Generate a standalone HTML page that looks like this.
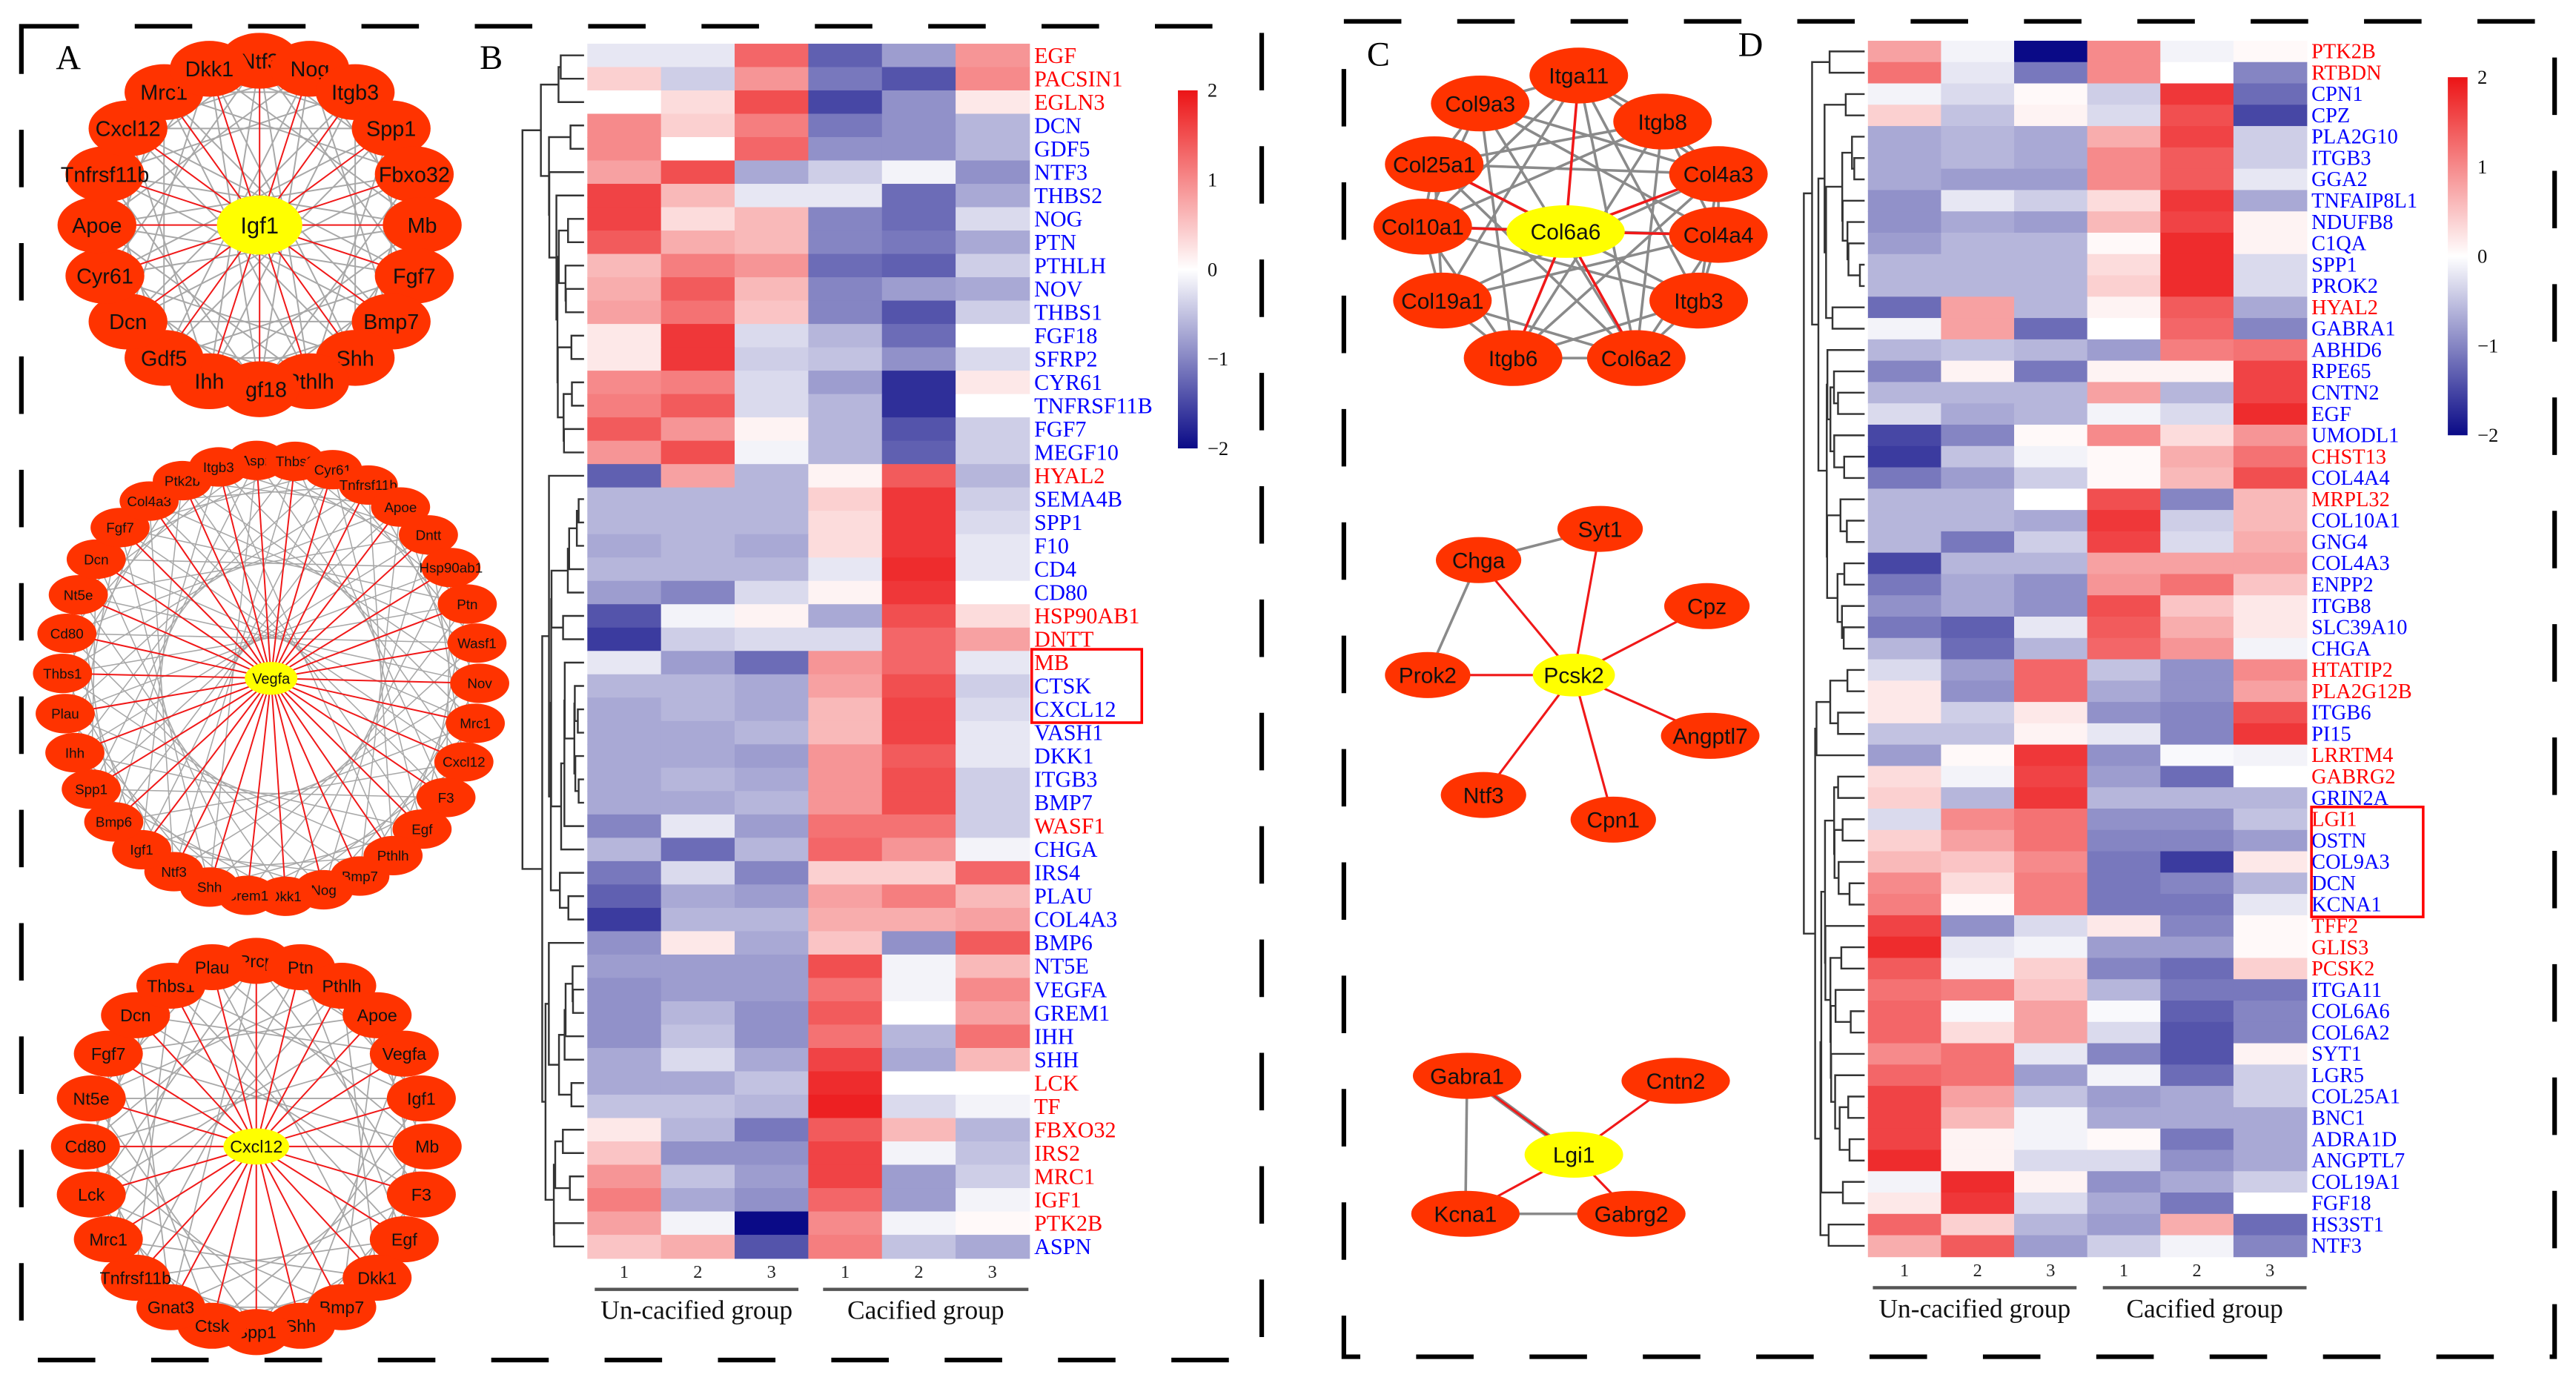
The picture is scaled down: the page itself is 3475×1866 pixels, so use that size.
<!DOCTYPE html>
<html><head><meta charset="utf-8"><style>
html,body{margin:0;padding:0;background:#fff;}
svg{display:block;}
</style></head><body>
<svg id="fig" xmlns="http://www.w3.org/2000/svg" width="3475" height="1866" viewBox="0 0 1568 842">
<rect x="0" y="0" width="1568" height="842" fill="#fff"/>
<g id="frames">
<rect x="13" y="16" width="755" height="812" fill="none" stroke="#000" stroke-width="2.8" stroke-dasharray="35 34" stroke-dashoffset="0"/>
<rect x="818" y="13" width="737" height="813" fill="none" stroke="#000" stroke-width="2.8" stroke-dasharray="35 34" stroke-dashoffset="0"/>
</g>
<g font-family="Liberation Serif, serif" font-size="21" fill="#000">
<text x="34" y="42">A</text>
<text x="292" y="42">B</text>
<text x="832" y="40">C</text>
<text x="1058" y="34">D</text>
</g>
<g id="nets"></g>
<g id="heatB"></g>
<g id="heatD"></g>
</svg>
<script>
const NS='http://www.w3.org/2000/svg';
function mk(tag,attrs,parent){const e=document.createElementNS(NS,tag);for(const k in attrs)e.setAttribute(k,attrs[k]);parent.appendChild(e);return e;}

// ---------- Heatmap B data ----------
const genesB=["EGF","PACSIN1","EGLN3","DCN","GDF5","NTF3","THBS2","NOG","PTN","PTHLH","NOV","THBS1","FGF18","SFRP2","CYR61","TNFRSF11B","FGF7","MEGF10","HYAL2","SEMA4B","SPP1","F10","CD4","CD80","HSP90AB1","DNTT","MB","CTSK","CXCL12","VASH1","DKK1","ITGB3","BMP7","WASF1","CHGA","IRS4","PLAU","COL4A3","BMP6","NT5E","VEGFA","GREM1","IHH","SHH","LCK","TF","FBXO32","IRS2","MRC1","IGF1","PTK2B","ASPN"];
const redGenesB=["EGF","PACSIN1","EGLN3","HYAL2","HSP90AB1","DNTT","MB","WASF1","LCK","TF","FBXO32","IRS2","MRC1","IGF1","PTK2B"];
const valuesB=[
[-0.2,-0.2,1.3,-1.3,-0.8,0.9],[0.4,-0.4,0.9,-1.1,-1.4,1.0],[0,0.3,1.5,-1.5,-0.9,0.2],[1.0,0.4,1.1,-1.1,-0.9,-0.6],[1.0,0,1.3,-0.9,-0.9,-0.6],
[0.8,1.5,-0.7,-0.4,-0.1,-0.9],[1.6,0.6,-0.2,-0.2,-1.2,-0.7],[1.6,0.3,0.6,-1.0,-1.2,-0.3],[1.4,0.7,0.6,-1.0,-1.1,-0.7],[0.6,1.1,0.9,-1.2,-1.3,-0.4],
[0.7,1.4,0.6,-1.0,-0.8,-0.7],[0.8,1.2,0.5,-1.0,-1.4,-0.4],[0.2,1.7,-0.3,-0.6,-1.2,0],[0.2,1.7,-0.4,-0.5,-0.9,-0.3],[1.0,1.1,-0.3,-0.8,-1.7,0.2],
[1.1,1.4,-0.3,-0.6,-1.7,0],[1.4,0.9,0.1,-0.6,-1.4,-0.4],[0.9,1.5,-0.1,-0.6,-1.3,-0.4],[-1.3,0.8,-0.6,0.1,1.4,-0.6],[-0.6,-0.6,-0.6,0.4,1.7,-0.4],
[-0.6,-0.6,-0.6,0.3,1.7,-0.3],[-0.7,-0.6,-0.7,0.3,1.7,-0.2],[-0.6,-0.6,-0.6,-0.2,1.8,-0.2],[-0.8,-1.0,-0.3,0.1,1.7,0],[-1.4,-0.1,0.1,-0.7,1.5,0.3],
[-1.6,-0.4,-0.3,-0.3,1.3,0.8],[-0.2,-0.8,-1.2,0.9,1.3,-0.2],[-0.6,-0.6,-0.7,0.8,1.5,-0.4],[-0.7,-0.6,-0.7,0.6,1.6,-0.3],[-0.7,-0.7,-0.6,0.6,1.6,-0.2],
[-0.7,-0.7,-0.8,0.9,1.4,-0.2],[-0.7,-0.6,-0.7,0.9,1.5,-0.4],[-0.7,-0.7,-0.6,0.9,1.5,-0.4],[-1.0,-0.2,-0.8,1.2,1.2,-0.4],[-0.6,-1.2,-0.6,1.3,0.9,-0.1],
[-1.1,-0.3,-1.0,0.4,0.4,1.3],[-1.3,-0.7,-0.8,0.8,1.1,0.6],[-1.6,-0.6,-0.6,0.7,0.7,0.8],[-0.9,0.2,-0.7,0.5,-0.9,1.4],[-0.8,-0.8,-0.8,1.5,-0.1,0.6],
[-0.9,-0.8,-0.8,1.2,-0.1,1.0],[-0.9,-0.6,-0.9,1.4,0,0.8],[-0.9,-0.5,-0.9,1.2,-0.6,1.2],[-0.7,-0.3,-0.7,1.6,-0.7,0.6],[-0.7,-0.7,-0.5,1.8,0,0],
[-0.5,-0.5,-0.6,1.9,-0.3,-0.1],[0.2,-0.6,-1.1,1.4,0.6,-0.6],[0.5,-0.9,-0.9,1.6,-0.1,-0.5],[0.9,-0.5,-0.8,1.6,-0.8,-0.4],[1.1,-0.7,-0.9,1.3,-0.8,-0.1],
[0.8,-0.1,-2.0,1.0,-0.1,0.05],[0.5,0.7,-1.4,1.1,-0.5,-0.7]];

// ---------- Heatmap D data ----------
const genesD=["PTK2B","RTBDN","CPN1","CPZ","PLA2G10","ITGB3","GGA2","TNFAIP8L1","NDUFB8","C1QA","SPP1","PROK2","HYAL2","GABRA1","ABHD6","RPE65","CNTN2","EGF","UMODL1","CHST13","COL4A4","MRPL32","COL10A1","GNG4","COL4A3","ENPP2","ITGB8","SLC39A10","CHGA","HTATIP2","PLA2G12B","ITGB6","PI15","LRRTM4","GABRG2","GRIN2A","LGI1","OSTN","COL9A3","DCN","KCNA1","TFF2","GLIS3","PCSK2","ITGA11","COL6A6","COL6A2","SYT1","LGR5","COL25A1","BNC1","ADRA1D","ANGPTL7","COL19A1","FGF18","HS3ST1","NTF3"];
const redGenesD=["PTK2B","RTBDN","HYAL2","CHST13","MRPL32","HTATIP2","PLA2G12B","LRRTM4","GABRG2","LGI1","TFF2","GLIS3","PCSK2"];
const valuesD=[
[0.8,-0.1,-2.0,1.0,-0.1,0.05],[1.2,-0.2,-1.1,1.0,0,-1.0],[-0.1,-0.3,0.05,-0.4,1.7,-1.2],[0.4,-0.5,0.1,-0.3,1.5,-1.5],[-0.7,-0.6,-0.7,0.7,1.6,-0.4],
[-0.7,-0.6,-0.7,1.0,1.4,-0.4],[-0.7,-0.8,-0.8,1.0,1.4,-0.2],[-0.9,-0.2,-0.4,0.3,1.7,-0.7],[-0.9,-0.7,-0.8,0.6,1.6,0.1],[-0.8,-0.6,-0.6,0.05,1.8,0.1],
[-0.6,-0.6,-0.6,0.3,1.8,-0.3],[-0.6,-0.6,-0.6,0.4,1.8,-0.3],[-1.2,0.8,-0.6,0.1,1.4,-0.7],[-0.1,0.8,-1.2,0,1.3,-1.0],[-0.6,-0.5,-0.6,-0.8,1.1,1.2],
[-1.0,0.1,-1.1,0.1,0.1,1.6],[-0.6,-0.6,-0.6,0.8,-0.6,1.6],[-0.3,-0.7,-0.6,-0.1,-0.3,1.8],[-1.5,-1.0,0.05,1.0,0.3,0.9],[-1.6,-0.5,-0.1,0.05,0.7,1.2],
[-1.1,-0.8,-0.4,0.05,0.6,1.5],[-0.6,-0.6,0,1.5,-1.0,0.6],[-0.6,-0.6,-0.7,1.7,-0.4,0.6],[-0.6,-1.1,-0.4,1.6,-0.3,0.7],[-1.5,-0.6,-0.6,0.8,0.8,0.8],
[-1.1,-0.7,-0.9,0.9,1.2,0.5],[-0.9,-0.7,-0.9,1.5,0.5,0.2],[-1.1,-1.3,-0.2,1.4,0.7,0.2],[-0.6,-1.2,-0.6,1.3,0.9,-0.1],[-0.3,-0.8,1.3,-0.5,-0.9,1.0],
[0.2,-0.9,1.3,-0.7,-0.9,0.8],[0.2,-0.4,0.2,-0.9,-1.0,1.5],[-0.5,-0.5,0.1,-0.2,-1.0,1.7],[-0.8,0.05,1.7,-0.9,-0.05,-0.1],[0.3,-0.1,1.6,-0.8,-1.2,0],
[0.4,-0.6,1.7,-0.6,-0.6,-0.6],[-0.3,1.0,1.2,-0.9,-0.9,-0.5],[0.4,0.8,1.2,-1.0,-1.0,-0.8],[0.6,0.5,1.0,-1.1,-1.6,0.2],[1.0,0.3,1.1,-1.1,-1.0,-0.6],
[1.1,0.05,1.1,-1.1,-1.1,-0.2],[1.6,-0.9,-0.3,0.2,-1.0,0.05],[1.8,-0.2,-0.1,-0.8,-0.8,0.05],[1.4,-0.1,0.4,-1.0,-1.2,0.4],[1.2,1.1,0.5,-0.6,-1.1,-1.1],
[1.3,-0.05,0.8,-0.05,-1.3,-1.0],[1.3,0.3,0.8,-0.3,-1.4,-1.0],[1.0,1.2,-0.2,-1.0,-1.4,0.1],[1.3,1.2,-0.8,-0.1,-1.2,-0.4],[1.6,0.8,-0.5,-0.8,-0.7,-0.4],
[1.6,0.6,-0.1,-0.7,-0.7,-0.7],[1.6,0.1,-0.1,0.05,-1.1,-0.7],[1.8,0.1,-0.3,-0.3,-0.9,-0.7],[-0.1,1.8,0.1,-0.9,-0.7,-0.4],[0.2,1.7,-0.3,-0.7,-1.1,0],
[1.3,0.4,-0.6,-0.8,0.7,-1.2],[0.7,1.4,-0.8,-0.4,-0.1,-1.0]];

const colLabels=["1","2","3","1","2","3"];
const groupLabels=["Un-cacified group","Cacified group"];
const legendTicks=[2,1,0,-1,-2];

function colorFor(v){
  v=Math.max(-2,Math.min(2,v));
  let r,g,b;
  if(v>=0){const t=v/2;r=255+(236-255)*t;g=255+(20-255)*t;b=255+(22-255)*t;}
  else{const t=-v/2;r=255+(10-255)*t;g=255+(10-255)*t;b=255+(135-255)*t;}
  return 'rgb('+Math.round(r)+','+Math.round(g)+','+Math.round(b)+')';
}

function heatmap(gid,cfg,genes,reds,vals){
  const g=document.getElementById(gid);
  const n=genes.length, rh=(cfg.y1-cfg.y0)/n, cw=(cfg.x1-cfg.x0)/6;
  const xS=c=>cfg.x0+c*cw, yS=r=>cfg.y0+r*rh;
  for(let r=0;r<n;r++){
    for(let c=0;c<6;c++){
      const rc=mk('rect',{x:xS(c),y:yS(r),width:cw+0.4,height:rh+0.4,fill:colorFor(vals[r][c])},g);
      
      
    }
    const t=mk('text',{x:cfg.x1+3,y:yS(r)+rh*0.82,'font-family':'Liberation Serif, serif','font-size':cfg.fs,fill:reds.includes(genes[r])?'#ff0000':'#0000ff'},g);
    t.textContent=genes[r];
    
    
  }
  for(let c=0;c<6;c++){
    const t=mk('text',{x:xS(c)+cw/2,y:cfg.y1+12,'text-anchor':'middle','font-family':'Liberation Serif, serif','font-size':11,fill:'#222'},g);
    t.textContent=colLabels[c];
    
    
  }
  cfg.groups.forEach((gr,i)=>{
    const l=mk('line',{x1:gr[0],x2:gr[1],y1:cfg.y1+19,y2:cfg.y1+19,stroke:'#555','stroke-width':2},g);
    
    
    const t=mk('text',{x:(gr[0]+gr[1])/2,y:cfg.y1+37,'text-anchor':'middle','font-family':'Liberation Serif, serif','font-size':16,fill:'#111'},g);
    t.textContent=groupLabels[i];
    
    
  });
  const L=cfg.leg;
  const defs=mk('defs',{},g);
  const grad=mk('linearGradient',{id:gid+'grad',x1:0,y1:0,x2:0,y2:1},defs);
  for(let i=0;i<=8;i++){const v=2-i*0.5;mk('stop',{offset:(i/8),'stop-color':colorFor(v)},grad);}
  const lb=mk('rect',{x:L.x,y:L.y0,width:12,height:L.y1-L.y0,fill:'url(#'+gid+'grad)'},g);
  
  
  legendTicks.forEach(v=>{
    const y=L.y0+(2-v)/4*(L.y1-L.y0);
    const t=mk('text',{x:L.x+18,y:y+4,'font-family':'Liberation Serif, serif','font-size':12,fill:'#111'},g);
    t.textContent=v<0?'\u2212'+(-v):String(v);
    
    
  });
  const bx=cfg.box;
  const br=mk('rect',{x:bx[0],y:yS(bx[2])-1,width:bx[1]-bx[0],height:(bx[3]-bx[2]+1)*rh+2,fill:'none',stroke:'#ff0000','stroke-width':1.6},g);
  
  
  let cl=vals.map((v,i)=>({cen:v.slice(),size:1,y:yS(i)+rh/2,h:0}));
  const merges=[];
  const dist=(a,b)=>Math.sqrt(a.cen.reduce((s,x,k)=>s+(x-b.cen[k])**2,0));
  while(cl.length>1){
    let bi=0,bd=1e9;
    for(let i=0;i<cl.length-1;i++){const d=dist(cl[i],cl[i+1]);if(d<bd){bd=d;bi=i;}}
    const a=cl[bi],b=cl[bi+1];
    const h=Math.max(bd,a.h,b.h)+0.02;
    const m={cen:a.cen.map((x,k)=>(x*a.size+b.cen[k]*b.size)/(a.size+b.size)),size:a.size+b.size,y:(a.y+b.y)/2,h:h};
    merges.push([a,b,m]);
    cl.splice(bi,2,m);
  }
  const maxH=cl[0].h;
  const hx=h=>cfg.x0-2-Math.pow(h/maxH,0.8)*(cfg.x0-2-cfg.dx);
  let d='';
  merges.forEach(([a,b,m])=>{
    d+='M'+hx(a.h)+','+a.y+'H'+hx(m.h)+'V'+b.y+'H'+hx(b.h);
  });
  const dp=mk('path',{d:d,fill:'none',stroke:'#333','stroke-width':1.1},g);
  
  
}

heatmap('heatB',{x0:357.5,x1:626.5,y0:26.6,y1:766,fs:13.6,dx:318,groups:[[362,486],[501,626]],leg:{x:717,y0:55,y1:273},box:[628,695,26,28]},genesB,redGenesB,valuesB);
heatmap('heatD',{x0:1137,x1:1404,y0:24.8,y1:765,fs:12.8,dx:1098,groups:[[1140,1264],[1280,1404]],leg:{x:1490,y0:47,y1:265},box:[1407,1475,36,40]},genesD,redGenesD,valuesD);

// ---------- Networks ----------
const nets=document.getElementById('nets');
const NODE='#ff3300', CENTER='#ffff00';
function node(x,y,rx,ry,fill,label,fs,name){
  const gg=mk('g',{},nets);
  
  
  mk('ellipse',{cx:x,cy:y,rx:rx,ry:ry,fill:fill},gg);
  const t=mk('text',{x:x,y:y+fs*0.36,'text-anchor':'middle','font-family':'Liberation Sans, sans-serif','font-size':fs,fill:'#111'},gg);
  t.textContent=label;
}
function edge(a,b,col,w){
  const l=mk('line',{x1:a[0],y1:a[1],x2:b[0],y2:b[1],stroke:col,'stroke-width':w},nets);
  
  
}
function ring(cx,cy,R,Ry,names,startDeg,rx,ry,fs,center,crx,cry,cfs,offs,gw){
  const n=names.length;
  const pts=names.map((s,i)=>{const a=(startDeg+i*360/n)*Math.PI/180;return [cx+R*Math.sin(a),cy-Ry*Math.cos(a)];});
  for(let i=0;i<n;i++)for(const o of offs){const j=(i+o)%n;if((i*7+j*3)%5!==0)edge(pts[i],pts[j],'#a8a8a8',gw);}
  pts.forEach(p=>edge(p,[cx,cy],'#f01818',0.9));
  pts.forEach((p,i)=>node(p[0],p[1],rx,ry,NODE,names[i],fs,'gene-node'));
  node(cx,cy,crx,cry,CENTER,center,cfs,'hub-node');
}
ring(158,137,99,100,["Ntf3","Nog","Itgb3","Spp1","Fbxo32","Mb","Fgf7","Bmp7","Shh","Pthlh","Fgf18","Ihh","Gdf5","Dcn","Cyr61","Apoe","Tnfrsf11b","Cxcl12","Mrc1","Dkk1"],0,24,17,13,"Igf1",26,18,14,[4,6,9],0.9);
ring(165,413,127,133,["Aspn","Thbs2","Cyr61","Tnfrsf11b","Apoe","Dntt","Hsp90ab1","Ptn","Wasf1","Nov","Mrc1","Cxcl12","F3","Egf","Pthlh","Bmp7","Nog","Dkk1","Grem1","Shh","Ntf3","Igf1","Bmp6","Spp1","Ihh","Plau","Thbs1","Cd80","Nt5e","Dcn","Fgf7","Col4a3","Ptk2b","Itgb3"],-4,18,12,8.5,"Vegfa",16,10,9,[6,11,15],0.7);
ring(156,698,104,113,["Prcp","Ptn","Pthlh","Apoe","Vegfa","Igf1","Mb","F3","Egf","Dkk1","Bmp7","Shh","Spp1","Ctsk","Gnat3","Tnfrsf11b","Mrc1","Lck","Cd80","Nt5e","Fgf7","Dcn","Thbs1","Plau"],0,21,14,10.5,"Cxcl12",20,11,10.5,[4,7,10],0.8);

const cTop={c:[953,141],names:["Itga11","Itgb8","Col4a3","Col4a4","Itgb3","Col6a2","Itgb6","Col19a1","Col10a1","Col25a1","Col9a3"],
 pts:[[961,46],[1012,74],[1046,106],[1046,143],[1034,183],[996,218],[921,218],[878,183],[866,138],[873,100],[901,63]]};
for(let i=0;i<11;i++)for(let j=i+1;j<11;j++){if((i+2*j)%3!==0)edge(cTop.pts[i],cTop.pts[j],'#8a8a8a',1.6);}
cTop.pts.forEach((p,i)=>{if(i%3!==1)edge(p,cTop.c,'#f01818',1.6);});
cTop.pts.forEach((p,i)=>node(p[0],p[1],30,17,NODE,cTop.names[i],13.5,'gene-node'));
node(953,141,36,16,CENTER,"Col6a6",13.5,'hub-node');

const cMid={names:["Syt1","Chga","Cpz","Prok2","Angptl7","Ntf3","Cpn1"],pts:[[974,322],[900,341],[1039,369],[869,411],[1041,448],[903,484],[982,499]]};
edge(cMid.pts[1],cMid.pts[0],'#8a8a8a',1.6);edge(cMid.pts[1],cMid.pts[3],'#8a8a8a',1.6);
cMid.pts.forEach(p=>edge(p,[958,411],'#f01818',1.4));
cMid.pts.forEach((p,i)=>node(p[0],p[1],i===4?30:26,14,NODE,cMid.names[i],13.5,'gene-node'));
node(958,411,25,13,CENTER,"Pcsk2",13.5,'hub-node');

const cBot={names:["Gabra1","Cntn2","Kcna1","Gabrg2"],pts:[[893,655],[1020,658],[892,739],[993,739]]};
edge(cBot.pts[0],cBot.pts[2],'#8a8a8a',1.6);edge(cBot.pts[2],cBot.pts[3],'#8a8a8a',1.6);edge(cBot.pts[0],[958,703],'#8a8a8a',3);
cBot.pts.forEach(p=>edge(p,[958,703],'#f01818',1.4));
cBot.pts.forEach((p,i)=>node(p[0],p[1],33,14,NODE,cBot.names[i],13.5,'gene-node'));
node(958,703,30,14,CENTER,"Lgi1",13.5,'hub-node');
</script>
</body></html>
